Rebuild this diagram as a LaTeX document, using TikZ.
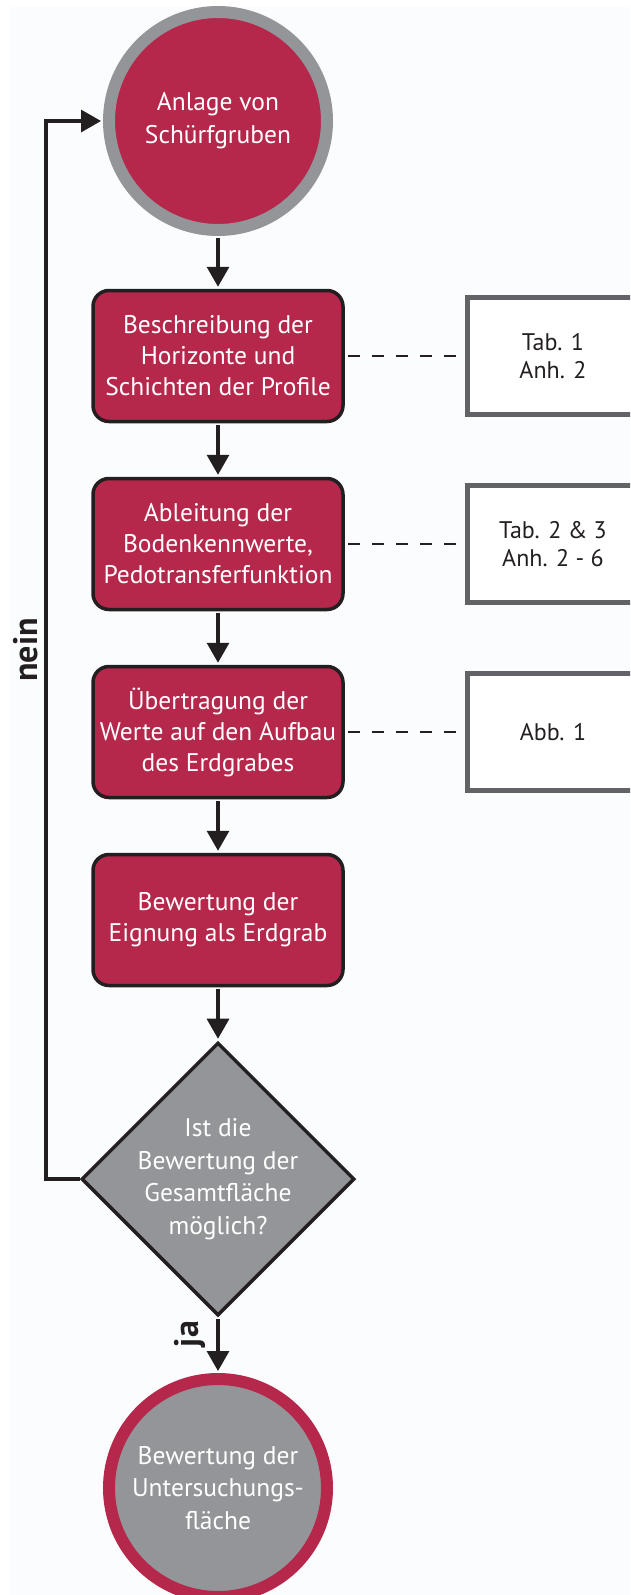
\documentclass[tikz,border=0pt]{standalone}
\usepackage{fontspec}
\setmainfont{PT Sans}
\usetikzlibrary{shapes.geometric,arrows.meta}
\definecolor{crimson}{RGB}{181,40,75}
\definecolor{midgrey}{RGB}{147,149,152}
\definecolor{boxgrey}{RGB}{98,99,102}
\definecolor{ink}{RGB}{35,31,32}
\definecolor{paper}{RGB}{251,252,254}
\tikzset{every node/.style={align=center, inner sep=0pt, font=\fontsize{25.5}{31}\selectfont},
  startnode/.style={circle, fill=crimson, draw=midgrey, line width=12pt, minimum size=218pt,
                    text=white, font=\fontsize{25.5}{33}\selectfont},
  resultnode/.style={circle, fill=midgrey, draw=crimson, line width=12pt, minimum size=218pt,
                     text=white, font=\fontsize{25.5}{32.5}\selectfont},
  stepbox/.style={rectangle, rounded corners=16pt, fill=crimson, draw=ink, line width=3.5pt,
                  minimum width=250pt, minimum height=131pt, text=white},
  decision/.style={diamond, aspect=1, fill=midgrey, draw=ink, line width=3.5pt,
                   minimum width=273pt, minimum height=273pt, inner sep=-25pt, text=white,
                   font=\fontsize{25.5}{32.5}\selectfont},
  refbox/.style={rectangle, fill=white, draw=boxgrey, line width=5.5pt, minimum width=171pt,
                 minimum height=117pt, text=ink, font=\fontsize{24}{28}\selectfont},
  branch/.style={rotate=90, text=ink, font=\fontsize{34}{38}\selectfont\bfseries},
  flow/.style={draw=ink, line width=3.3pt, -{Triangle[length=20pt,width=22pt]}, shorten >=2pt, shorten <=2pt},
  dashline/.style={draw=ink, line width=2pt, dash pattern=on 11.5pt off 12.5pt, shorten >=9.25pt, shorten <=3.25pt}}

\begin{document}
\begin{tikzpicture}[x=1pt,y=-1pt]
   \clip (0,0) rectangle (630,1595);
   \fill[paper] (10,7) rectangle (630,1595);
   \node[startnode] (start) at (218,121) {Anlage von\\Schürfgruben};
   \node[stepbox] (b1) at (218,356) {Beschreibung der\\Horizonte und\\Schichten der Profile};
   \node[stepbox] (b2) at (218,544) {Ableitung der\\Bodenkennwerte,\\Pedotransferfunktion};
   \node[stepbox] (b3) at (218,732) {Übertragung der\\Werte auf den Aufbau\\des Erdgrabes};
   \node[stepbox] (b4) at (218,920) {Bewertung der\\Eignung als Erdgrab};
   \node[decision] (dec) at (218,1179) {Ist die\\Bewertung der\\Gesamtfläche\\möglich?};
   \node[resultnode] (result) at (218,1488) {Bewertung der\\Untersuchungs-\\fläche};
   \node[refbox] (r1) at (553,356) {Tab. 1\\Anh. 2};
   \node[refbox] (r2) at (553,544) {Tab. 2 \& 3\\Anh. 2 - 6};
   \node[refbox] (r3) at (553,732) {Abb. 1};
   \draw[dashline] (b1) -- (r1);
   \draw[dashline] (b2) -- (r2);
   \draw[dashline] (b3) -- (r3);
   \draw[flow] (start) -- (b1);
   \draw[flow] (b1) -- (b2);
   \draw[flow] (b2) -- (b3);
   \draw[flow] (b3) -- (b4);
   \draw[flow] (b4) -- (dec);
   \draw[flow] (dec) -- (result);
   \coordinate (loop) at (46,1179);
   \draw[flow, shorten <=0pt] (dec.west) -- (loop) |- (start.west);
   \node[branch] (nein) at (26,650) {nein};
   \node[branch] (ja) at (190,1334) {ja};
\end{tikzpicture}
\end{document}
